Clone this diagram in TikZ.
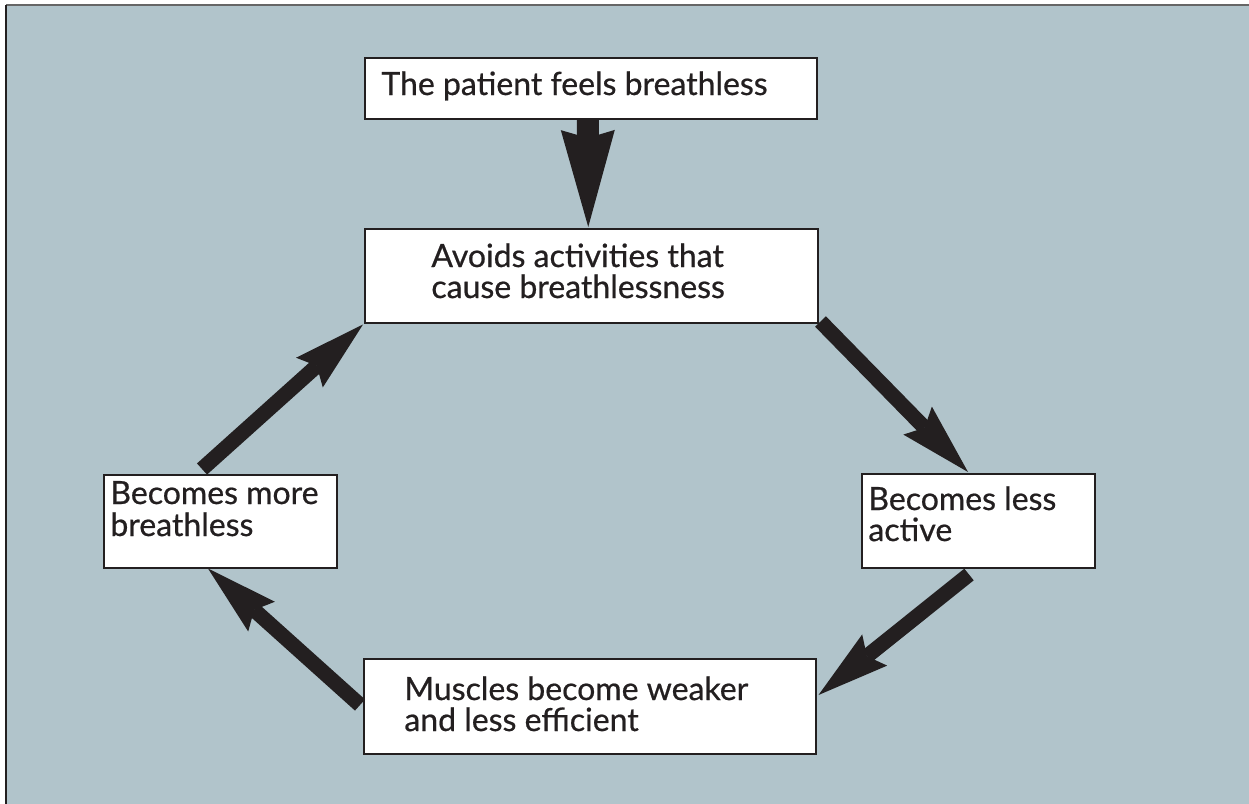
\documentclass[tikz,border=0pt]{standalone}
\usepackage{fontspec}
\setmainfont{Lato}[FakeBold=0.6]
\usetikzlibrary{arrows.meta,calc}
\definecolor{bg}{HTML}{B1C4CB}
\definecolor{ink}{HTML}{231F20}
\definecolor{rule}{HTML}{666666}
\begin{document}
\begin{tikzpicture}[x=0.5pt,y=-0.5pt,
  box/.style={draw=ink, line width=0.75pt, fill=white, inner sep=0pt, anchor=north west},
  txt/.style={text=ink, font=\fontsize{16pt}{18pt}\selectfont, inner sep=0pt, anchor=base west},
  bigarrow/.style={draw=ink, line width=7.5pt, -{Stealth[length=36pt, width=20pt, inset=5pt, line width=0pt]}},
  toparrow/.style={draw=ink, line width=11pt, -{Stealth[length=48.5pt, width=27pt, inset=4pt, line width=0pt]}},
]
\useasboundingbox (0,0) rectangle (1249,804);
\fill[white] (0,0) rectangle (1249,804);
\fill[bg] (6,5) rectangle (1249,804);
\draw[line width=0.8pt, draw=rule] (6,5) -- (1249,5);
\draw[line width=0.8pt, draw=ink] (6,5) -- (6,804);

% boxes
\node[box, minimum width=226pt, minimum height=30.5pt] (top) at (364,57) {};
\node[box, minimum width=226.5pt, minimum height=47pt] (avoid) at (364,228) {};
\node[box, minimum width=116.5pt, minimum height=47pt] (less) at (861,473) {};
\node[box, minimum width=226pt, minimum height=47.5pt] (muscles) at (363,658) {};
\node[box, minimum width=116.5pt, minimum height=46.5pt] (more) at (103,474) {};

% texts
\node[txt] (t1) at ($(top.north west)+(17,38)$) {The patient feels breathless};
\node[txt] (t2a) at ($(avoid.north west)+(67,39)$) {Avoids activities that};
\node[txt] (t2b) at ($(avoid.north west)+(67,70)$) {cause breathlessness};
\node[txt] (t3a) at ($(less.north west)+(7,37)$) {Becomes less};
\node[txt] (t3b) at ($(less.north west)+(7,68)$) {active};
\node[txt] (t4a) at ($(muscles.north west)+(41,42)$) {Muscles become weaker};
\node[txt] (t4b) at ($(muscles.north west)+(41,73)$) {and less efficient};
\node[txt] (t5a) at ($(more.north west)+(7,30)$) {Becomes more};
\node[txt] (t5b) at ($(more.north west)+(7,62)$) {breathless};

% arrows
\draw[toparrow] ($(top.south)+(-3,0)$) -- ($(avoid.north)+(-3,-1)$);
\draw[bigarrow] ($(avoid.south east)+(2,-2)$) -- ($(less.north west)+(107,-1)$);
\draw[bigarrow] ($(less.south west)+(108,6)$) -- ($(muscles.north east)+(2,37)$);
\draw[bigarrow] ($(muscles.north west)+(-3,47)$) -- ($(more.south west)+(105,0)$);
\draw[bigarrow] ($(more.north west)+(99,-5)$) -- ($(avoid.south west)+(-1,1)$);
\end{tikzpicture}
\end{document}
